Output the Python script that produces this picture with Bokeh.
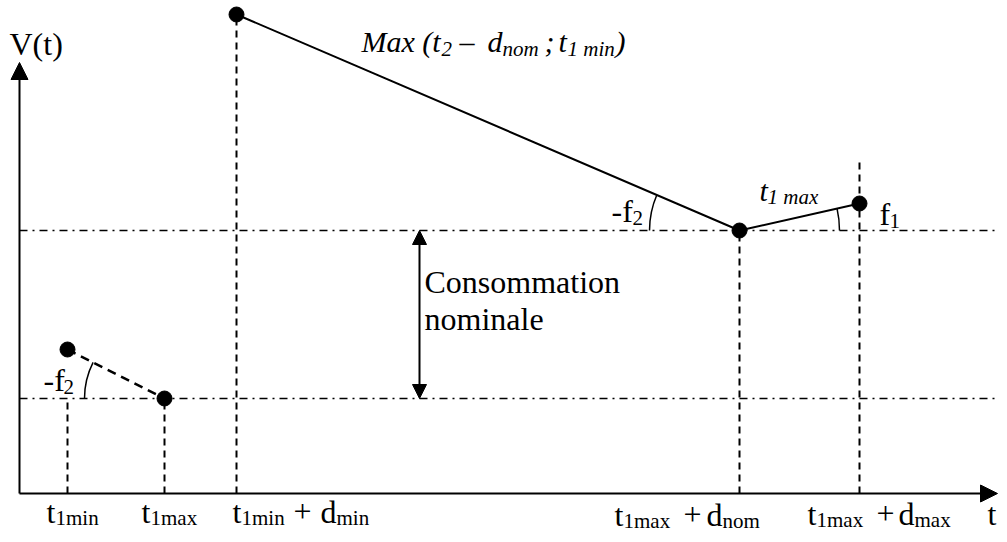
import numpy as np
from bokeh.plotting import figure
from bokeh.models import Range1d, Arrow, NormalHead
from bokeh.core.properties import value
from bokeh.embed import file_html
from bokeh.resources import INLINE

# ---- diagram values (time positions and volume levels, schematic units) ----
t_names = ["t1min", "t1max", "t1min+dmin", "t1max+dnom", "t1max+dmax"]
t_pos = [68, 165, 237, 740, 860]
v_low = 143          # lower nominal level
v_nom = 311          # upper nominal level
pt_x = [68, 165, 237, 740, 860]
pt_y = [192, 143, 527, 311, 338]
axis_x0, axis_y0 = 20, 48
axis_x_end, axis_y_end = 998, 479

FONT = "Liberation Serif"
MAIN = 32
SUB = 21
IT = 30
H = 542  # baselines below are given from the top of the picture
LIFT = 0.37  # baseline correction, in em

p = figure(width=998, height=533, output_backend="svg", toolbar_location=None,
           x_range=Range1d(1, 999), y_range=Range1d(8, 541),
           x_axis_type=None, y_axis_type=None,
           min_border=0, min_border_left=0, min_border_right=0,
           min_border_top=0, min_border_bottom=0)
p.outline_line_color = None
p.background_fill_color = "white"
p.border_fill_color = "white"
p.grid.visible = False

# dash-dot nominal levels
for lv in (v_nom, v_low):
    p.line([axis_x0, 1007], [lv, lv], line_color="black", line_width=1.5,
           line_dash="8 5 2 5")

# vertical dashed guides
guide_top = [v_low, v_low, pt_y[2], v_nom, 382]
for x, top in zip(t_pos, guide_top):
    p.line([x, x], [axis_y0, top], line_color="black", line_width=2,
           line_dash="7 5")

# axes with arrows
p.add_layout(Arrow(end=NormalHead(size=17, fill_color="black", line_color="black"),
                   x_start=axis_x0, y_start=axis_y0, x_end=axis_x_end, y_end=axis_y0,
                   line_width=2, line_color="black"))
p.add_layout(Arrow(end=NormalHead(size=17, fill_color="black", line_color="black"),
                   x_start=axis_x0, y_start=axis_y0, x_end=axis_x0, y_end=axis_y_end,
                   line_width=2, line_color="black"))

# nominal consumption double arrow
p.add_layout(Arrow(start=NormalHead(size=14, fill_color="black", line_color="black"),
                   end=NormalHead(size=14, fill_color="black", line_color="black"),
                   x_start=420, y_start=v_nom, x_end=420, y_end=v_low,
                   line_width=2, line_color="black"))

# segments
p.line([pt_x[2], pt_x[3], pt_x[4]], [pt_y[2], pt_y[3], pt_y[4]],
       line_color="black", line_width=2)
p.line([pt_x[0], pt_x[1]], [pt_y[0], pt_y[1]], line_color="black",
       line_width=2.5, line_dash="9 6")

p.scatter(pt_x, pt_y, size=15, fill_color="black", line_color="black")

# angle arcs
def ang(x0, y0, x1, y1):
    return np.arctan2(y1 - y0, x1 - x0)

a1 = ang(pt_x[3], pt_y[3], pt_x[2], pt_y[2])
p.arc(x=pt_x[3], y=pt_y[3], radius=90, start_angle=a1, end_angle=np.pi,
      line_color="black", line_width=1.5)
a2 = ang(pt_x[3], pt_y[3], pt_x[4], pt_y[4])
p.arc(x=pt_x[3], y=pt_y[3], radius=100, start_angle=0, end_angle=a2,
      line_color="black", line_width=1.5)
a3 = ang(pt_x[1], pt_y[1], pt_x[0], pt_y[0])
p.arc(x=pt_x[1], y=pt_y[1], radius=80, start_angle=a3, end_angle=np.pi,
      line_color="black", line_width=1.5)

def put(s, x, base, size=MAIN, style="normal"):
    p.text(x=[x], y=[H - base + LIFT * size], text=[s], text_font=value(FONT),
           text_font_size=f"{size}px", text_font_style=style, text_color="black",
           text_align="left", text_baseline="alphabetic")

# axis titles
put("V(t)", 10, 56)
put("t", 988, 526)

# tick labels
put("t", 47, 524); put("1min", 56, 526, SUB)
put("t", 142, 524); put("1max", 151, 526, SUB)
put("t", 233, 524); put("1min", 242, 526, SUB); put("+", 294, 524)
put("d", 321, 524); put("min", 337, 526, SUB)
put("t", 615, 527); put("1max", 624, 529, SUB); put("+", 684, 527)
put("d", 707, 527); put("nom", 723, 529, SUB)
put("t", 808, 526); put("1max", 817, 528, SUB); put("+", 877, 526)
put("d", 899, 526); put("max", 915, 528, SUB)

# annotations
put("Max (t", 362, 53, IT, "italic"); put("2", 442, 57, SUB, "italic")
put("\u2013", 460, 53, IT, "italic"); put("d", 488, 53, IT, "italic")
put("nom", 503, 57, SUB, "italic"); put(";", 545, 53, IT, "italic")
put("t", 559, 53, IT, "italic"); put("1 min", 568, 57, SUB, "italic")
put(")", 616, 53, IT, "italic")

put("t", 760, 202, IT, "italic"); put("1 max", 768, 205, SUB, "italic")
put("-f", 612, 223); put("2", 633, 226, SUB)
put("f", 880, 226); put("1", 890, 229, SUB)
put("-f", 44, 392); put("2", 64, 395, SUB)

put("Consommation", 425, 294)
put("nominale", 425, 331)

open("out.html", "w").write(file_html(p, INLINE))
